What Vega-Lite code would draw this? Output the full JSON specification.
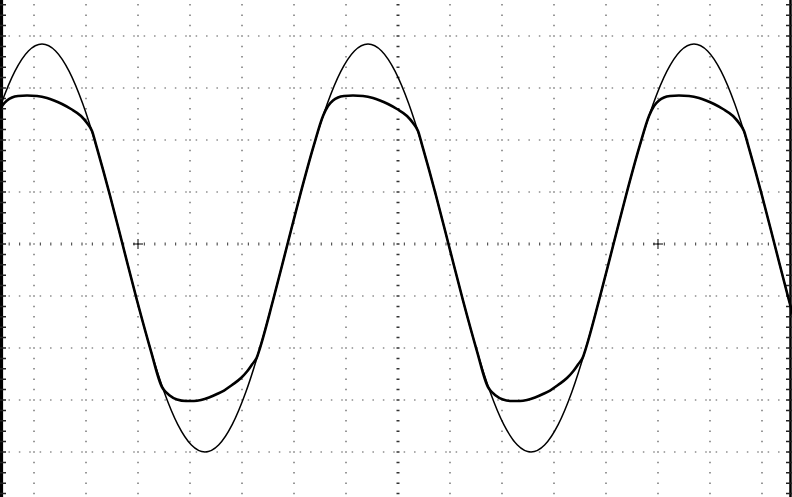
{
  "$schema": "https://vega.github.io/schema/vega-lite/v6.json",
  "width": 792,
  "height": 497,
  "autosize": {"type": "none"},
  "padding": 0,
  "background": "white",
  "config": {"view": {"stroke": null}},
  "datasets": {
    "vgrid": [{"t": -7}, {"t": -6}, {"t": -5}, {"t": -4}, {"t": -3}, {"t": -2}, {"t": -1}, {"t": 1}, {"t": 2}, {"t": 3}, {"t": 4}, {"t": 5}, {"t": 6}, {"t": 7}],
    "hgrid": [{"v": -4}, {"v": -3}, {"v": -2}, {"v": -1}, {"v": 1}, {"v": 2}, {"v": 3}, {"v": 4}],
    "centerX": [{"t": 0}],
    "centerY": [{"v": 0}],
    "leftBar": [{"t": -7.625}],
    "leftEdge": [{"t": -7.654}],
    "rightBar": [{"t": 7.548}],
    "rightEdge": [{"t": 7.577}],
    "marks": [{"t": -5, "v": 0}, {"t": 5, "v": 0}],
    "sine": [
      {"t": -7.8910, "v": 1.885}, {"t": -7.6298, "v": 2.697}, {"t": -7.3686, "v": 3.320}, {"t": -7.1074, "v": 3.712},
      {"t": -6.8462, "v": 3.846}, {"t": -6.5849, "v": 3.712}, {"t": -6.3237, "v": 3.320}, {"t": -6.0625, "v": 2.697},
      {"t": -5.8013, "v": 1.885}, {"t": -5.5401, "v": 0.938}, {"t": -5.2789, "v": -0.077}, {"t": -5.0177, "v": -1.092},
      {"t": -4.7565, "v": -2.039}, {"t": -4.4953, "v": -2.851}, {"t": -4.2340, "v": -3.474}, {"t": -3.9728, "v": -3.866},
      {"t": -3.7116, "v": -4.000}, {"t": -3.4504, "v": -3.866}, {"t": -3.1892, "v": -3.474}, {"t": -2.9279, "v": -2.851},
      {"t": -2.6667, "v": -2.039}, {"t": -2.4055, "v": -1.092}, {"t": -2.1443, "v": -0.077}, {"t": -1.8831, "v": 0.938},
      {"t": -1.6218, "v": 1.885}, {"t": -1.3606, "v": 2.697}, {"t": -1.0994, "v": 3.320}, {"t": -0.8382, "v": 3.712},
      {"t": -0.5769, "v": 3.846}, {"t": -0.3157, "v": 3.712}, {"t": -0.0545, "v": 3.320}, {"t": 0.2067, "v": 2.697},
      {"t": 0.4679, "v": 1.885}, {"t": 0.7291, "v": 0.938}, {"t": 0.9903, "v": -0.077}, {"t": 1.2515, "v": -1.092},
      {"t": 1.5128, "v": -2.039}, {"t": 1.7740, "v": -2.851}, {"t": 2.0352, "v": -3.474}, {"t": 2.2964, "v": -3.866},
      {"t": 2.5576, "v": -4.000}, {"t": 2.8188, "v": -3.866}, {"t": 3.0800, "v": -3.474}, {"t": 3.3413, "v": -2.851},
      {"t": 3.6025, "v": -2.039}, {"t": 3.8637, "v": -1.092}, {"t": 4.1249, "v": -0.077}, {"t": 4.3861, "v": 0.938},
      {"t": 4.6473, "v": 1.885}, {"t": 4.9086, "v": 2.697}, {"t": 5.1698, "v": 3.320}, {"t": 5.4310, "v": 3.712},
      {"t": 5.6922, "v": 3.846}, {"t": 5.9534, "v": 3.712}, {"t": 6.2146, "v": 3.320}, {"t": 6.4758, "v": 2.697},
      {"t": 6.7371, "v": 1.885}, {"t": 6.9983, "v": 0.938}, {"t": 7.2595, "v": -0.077}, {"t": 7.5207, "v": -1.092},
      {"t": 7.7819, "v": -2.039}
    ],
    "clipped": [
      {"t": -7.8910, "v": 1.885}, {"t": -7.7115, "v": 2.4615}, {"t": -7.6154, "v": 2.6538}, {"t": -7.5192, "v": 2.7596},
      {"t": -7.4231, "v": 2.8173}, {"t": -7.3077, "v": 2.8462}, {"t": -7.1346, "v": 2.8558}, {"t": -6.9423, "v": 2.8462},
      {"t": -6.75, "v": 2.8077}, {"t": -6.6154, "v": 2.7596}, {"t": -6.4615, "v": 2.6923}, {"t": -6.2885, "v": 2.5962},
      {"t": -6.0962, "v": 2.4615}, {"t": -5.9808, "v": 2.3269}, {"t": -5.8846, "v": 2.1731}, {"t": -5.8013, "v": 1.885},
      {"t": -5.5401, "v": 0.938}, {"t": -5.2789, "v": -0.077}, {"t": -5.0177, "v": -1.092}, {"t": -4.7565, "v": -2.039},
      {"t": -4.5385, "v": -2.75}, {"t": -4.5, "v": -2.8077}, {"t": -4.4038, "v": -2.9038}, {"t": -4.25, "v": -2.9904},
      {"t": -4.0769, "v": -3.0192}, {"t": -3.9231, "v": -3.0192}, {"t": -3.7885, "v": -3.0}, {"t": -3.6346, "v": -2.9519},
      {"t": -3.4808, "v": -2.8846}, {"t": -3.3462, "v": -2.8173}, {"t": -3.1923, "v": -2.7115}, {"t": -3.0192, "v": -2.5769},
      {"t": -2.9038, "v": -2.4519}, {"t": -2.8077, "v": -2.3173}, {"t": -2.7115, "v": -2.1731}, {"t": -2.6667, "v": -2.039},
      {"t": -2.4055, "v": -1.092}, {"t": -2.1443, "v": -0.077}, {"t": -1.8831, "v": 0.938}, {"t": -1.6218, "v": 1.885},
      {"t": -1.4423, "v": 2.4615}, {"t": -1.3462, "v": 2.6538}, {"t": -1.25, "v": 2.7596}, {"t": -1.1538, "v": 2.8173},
      {"t": -1.0385, "v": 2.8462}, {"t": -0.8654, "v": 2.8558}, {"t": -0.6731, "v": 2.8462}, {"t": -0.4808, "v": 2.8077},
      {"t": -0.3462, "v": 2.7596}, {"t": -0.1923, "v": 2.6923}, {"t": -0.0192, "v": 2.5962}, {"t": 0.1731, "v": 2.4615},
      {"t": 0.2885, "v": 2.3269}, {"t": 0.3846, "v": 2.1731}, {"t": 0.4679, "v": 1.885}, {"t": 0.7291, "v": 0.938},
      {"t": 0.9903, "v": -0.077}, {"t": 1.2515, "v": -1.092}, {"t": 1.5128, "v": -2.039}, {"t": 1.7308, "v": -2.75},
      {"t": 1.7692, "v": -2.8077}, {"t": 1.8654, "v": -2.9038}, {"t": 2.0192, "v": -2.9904}, {"t": 2.1923, "v": -3.0192},
      {"t": 2.3462, "v": -3.0192}, {"t": 2.4808, "v": -3.0}, {"t": 2.6346, "v": -2.9519}, {"t": 2.7885, "v": -2.8846},
      {"t": 2.9231, "v": -2.8173}, {"t": 3.0769, "v": -2.7115}, {"t": 3.25, "v": -2.5769}, {"t": 3.3654, "v": -2.4519},
      {"t": 3.4615, "v": -2.3173}, {"t": 3.5577, "v": -2.1731}, {"t": 3.6025, "v": -2.039}, {"t": 3.8637, "v": -1.092},
      {"t": 4.1249, "v": -0.077}, {"t": 4.3861, "v": 0.938}, {"t": 4.6473, "v": 1.885}, {"t": 4.8269, "v": 2.4615},
      {"t": 4.9231, "v": 2.6538}, {"t": 5.0192, "v": 2.7596}, {"t": 5.1154, "v": 2.8173}, {"t": 5.2308, "v": 2.8462},
      {"t": 5.4038, "v": 2.8558}, {"t": 5.5962, "v": 2.8462}, {"t": 5.7885, "v": 2.8077}, {"t": 5.9231, "v": 2.7596},
      {"t": 6.0769, "v": 2.6923}, {"t": 6.25, "v": 2.5962}, {"t": 6.4423, "v": 2.4615}, {"t": 6.5577, "v": 2.3269},
      {"t": 6.6538, "v": 2.1731}, {"t": 6.7371, "v": 1.885}, {"t": 6.9983, "v": 0.938}, {"t": 7.2595, "v": -0.077},
      {"t": 7.5207, "v": -1.092}, {"t": 7.7819, "v": -2.039}
    ]
  },
  "layer": [
    {
      "data": {"name": "vgrid"},
      "mark": {"type": "rule", "color": "#555", "strokeWidth": 1.2, "strokeDash": [1.5, 8.9], "strokeDashOffset": 6.35},
      "encoding": {"x": {"field": "t", "type": "quantitative", "scale": {"domain": [-7.654, 7.577], "nice": false, "zero": false}, "axis": null}}
    },
    {
      "data": {"name": "hgrid"},
      "mark": {"type": "rule", "color": "#555", "strokeWidth": 1.2, "strokeDash": [1.5, 8.9], "strokeDashOffset": 8.35},
      "encoding": {"y": {"field": "v", "type": "quantitative", "scale": {"domain": [-4.865, 4.692], "nice": false, "zero": false}, "axis": null}}
    },
    {
      "data": {"name": "centerX"},
      "mark": {"type": "rule", "color": "#333", "strokeWidth": 3, "strokeDash": [1.5, 8.9], "strokeDashOffset": 6.35},
      "encoding": {"x": {"field": "t", "type": "quantitative", "axis": null}}
    },
    {
      "data": {"name": "centerY"},
      "mark": {"type": "rule", "color": "#555", "strokeWidth": 3, "strokeDash": [1.2, 9.2], "strokeDashOffset": 8.2},
      "encoding": {"y": {"field": "v", "type": "quantitative", "axis": null}}
    },
    {
      "data": {"name": "leftBar"},
      "mark": {"type": "rule", "color": "black", "strokeWidth": 3.2},
      "encoding": {"x": {"field": "t", "type": "quantitative", "axis": null}}
    },
    {
      "data": {"name": "leftEdge"},
      "mark": {"type": "rule", "color": "#222", "strokeWidth": 12, "strokeDash": [1.5, 8.9], "strokeDashOffset": 6.35},
      "encoding": {"x": {"field": "t", "type": "quantitative", "axis": null}}
    },
    {
      "data": {"name": "rightBar"},
      "mark": {"type": "rule", "color": "black", "strokeWidth": 2.5},
      "encoding": {"x": {"field": "t", "type": "quantitative", "axis": null}}
    },
    {
      "data": {"name": "rightEdge"},
      "mark": {"type": "rule", "color": "#222", "strokeWidth": 12, "strokeDash": [1.5, 8.9], "strokeDashOffset": 6.35},
      "encoding": {"x": {"field": "t", "type": "quantitative", "axis": null}}
    },
    {
      "data": {"name": "marks"},
      "mark": {"type": "point", "shape": "M-1,0L1,0M0,-1L0,1", "filled": false, "color": "black", "strokeWidth": 1, "size": 100, "opacity": 1},
      "encoding": {
        "x": {"field": "t", "type": "quantitative", "axis": null},
        "y": {"field": "v", "type": "quantitative", "axis": null}
      }
    },
    {
      "data": {"name": "sine"},
      "mark": {"type": "line", "interpolate": "monotone", "color": "black", "strokeWidth": 1.5, "clip": true},
      "encoding": {
        "x": {"field": "t", "type": "quantitative", "axis": null},
        "y": {"field": "v", "type": "quantitative", "axis": null}
      }
    },
    {
      "data": {"name": "clipped"},
      "mark": {"type": "line", "interpolate": "monotone", "color": "black", "strokeWidth": 2.6, "clip": true},
      "encoding": {
        "x": {"field": "t", "type": "quantitative", "axis": null},
        "y": {"field": "v", "type": "quantitative", "axis": null}
      }
    }
  ]
}
